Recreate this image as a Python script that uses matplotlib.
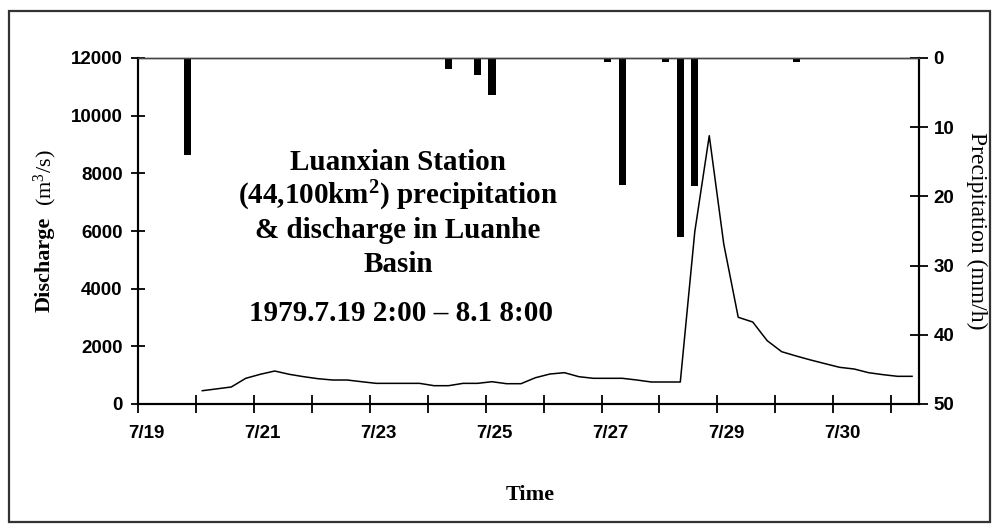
import matplotlib
matplotlib.use("Agg")
import matplotlib.pyplot as plt
from matplotlib.patches import Rectangle
import numpy as np

# ---- data (time steps of 6 h; step 0 is the first discharge reading) ----
discharge_steps = list(range(50))
discharge = [461, 525, 590, 891, 1030, 1144, 1030, 947, 877, 832,
             832, 773, 716, 716, 716, 716, 635, 635, 716, 716,
             773, 704, 704, 912, 1040, 1086, 947, 891, 891, 891,
             832, 763, 763, 763, 5976, 9305, 5550, 3007, 2844, 2196,
             1814, 1665, 1526, 1398, 1272, 1214, 1086, 1017, 960, 960]
precip_steps = [-1, 17, 19, 20, 28, 29, 32, 33, 34, 41]
precip = [14.0, 1.6, 2.5, 5.3, 0.6, 18.3, 0.6, 25.9, 18.5, 0.6]
date_labels = ['7/19', '7/21', '7/23', '7/25', '7/27', '7/29', '7/30']
left_ticks = [0, 2000, 4000, 6000, 8000, 10000, 12000]
right_ticks = [0, 10, 20, 30, 40, 50]

plt.rcParams['mathtext.fontset'] = 'custom'
plt.rcParams['mathtext.rm'] = 'Liberation Serif'
plt.rcParams['mathtext.it'] = 'Liberation Serif'
plt.rcParams['mathtext.bf'] = 'Liberation Serif:bold'

W, H = 996, 532
def fx(px): return px / W
def fy(py): return 1 - py / H

def step_to_x(s):
    return 1.11 + 0.25 * np.asarray(s, dtype=float)

sans = ['Liberation Sans', 'DejaVu Sans']
serif = ['Liberation Serif', 'DejaVu Serif']

fig = plt.figure(figsize=(W / 100, H / 100), dpi=100)
fig.patch.set_facecolor('white')

# outer frame
fig.patches.append(Rectangle((fx(9), fy(522)), fx(990) - fx(9), fy(11) - fy(522),
                             transform=fig.transFigure, fill=False,
                             edgecolor='#333333', linewidth=1.6))

ax = fig.add_axes([fx(138), fy(404), fx(919) - fx(138), fy(58) - fy(404)])
ax2 = ax.twinx()

ax.plot(step_to_x(discharge_steps), discharge, color='black', lw=1.1, zorder=3)
ax2.bar(step_to_x(precip_steps), precip, width=0.125, color='black', zorder=2)

ax.set_xlim(0, 13.48)
ax.set_ylim(0, 12000)
ax2.set_ylim(50, 0)

# spines
for a in (ax, ax2):
    for s in ('left', 'right', 'bottom'):
        a.spines[s].set_linewidth(1.5)
        a.spines[s].set_color('black')
    a.spines['top'].set_linewidth(1.0)
    a.spines['top'].set_color('#444444')

# x ticks: minor tick marks at each unit, labels (major, no mark) slightly right
ax.set_xticks(np.arange(0, 14), minor=True)
ax.set_xticks(np.arange(0, 13, 2) + 0.15)
ax.set_xticklabels(date_labels)
ax.tick_params(axis='x', which='minor', direction='inout', length=13, width=1.3,
               bottom=True, top=False)
ax.tick_params(axis='x', which='major', length=0, pad=15)

ax.set_yticks(left_ticks)
ax.set_yticklabels([str(v) for v in left_ticks])
ax.tick_params(axis='y', which='major', direction='inout', length=10, width=1.3, pad=6)

ax2.set_yticks(right_ticks)
ax2.set_yticklabels([str(v) for v in right_ticks])
ax2.tick_params(axis='y', which='major', direction='inout', length=13, width=1.3, pad=4)

for lab in ax.get_xticklabels() + ax.get_yticklabels() + ax2.get_yticklabels():
    lab.set_family(sans)
    lab.set_fontweight('bold')
    lab.set_fontsize(13.5)

# title block
title_lines = ['Luanxian Station', r'(44,100km$\mathbf{^{2}}$) precipitation',
               '& discharge in Luanhe', 'Basin']
for i, line in enumerate(title_lines):
    fig.text(fx(398), fy(170 + 34 * i), line, ha='center', va='baseline',
             family=serif, fontweight='bold', fontsize=21)
fig.text(fx(401), fy(321), '1979.7.19 2:00 \u2013 8.1 8:00', ha='center',
         va='baseline', family=serif, fontweight='bold', fontsize=21)

# axis labels
fig.text(fx(45), fy(264), 'Discharge', rotation=90, ha='center', va='center',
         family=serif, fontweight='bold', fontsize=16)
fig.text(fx(45), fy(178), r'(m$^{3}$/s)', rotation=90, ha='center', va='center',
         family=serif, fontsize=16)
fig.text(fx(977), fy(231), 'Precipitation (mm/h)', rotation=270, ha='center',
         va='center', family=serif, fontsize=17)
fig.text(fx(530), fy(500), 'Time', ha='center', va='baseline',
         family=serif, fontweight='bold', fontsize=16)

fig.savefig('out.png', dpi=100)
